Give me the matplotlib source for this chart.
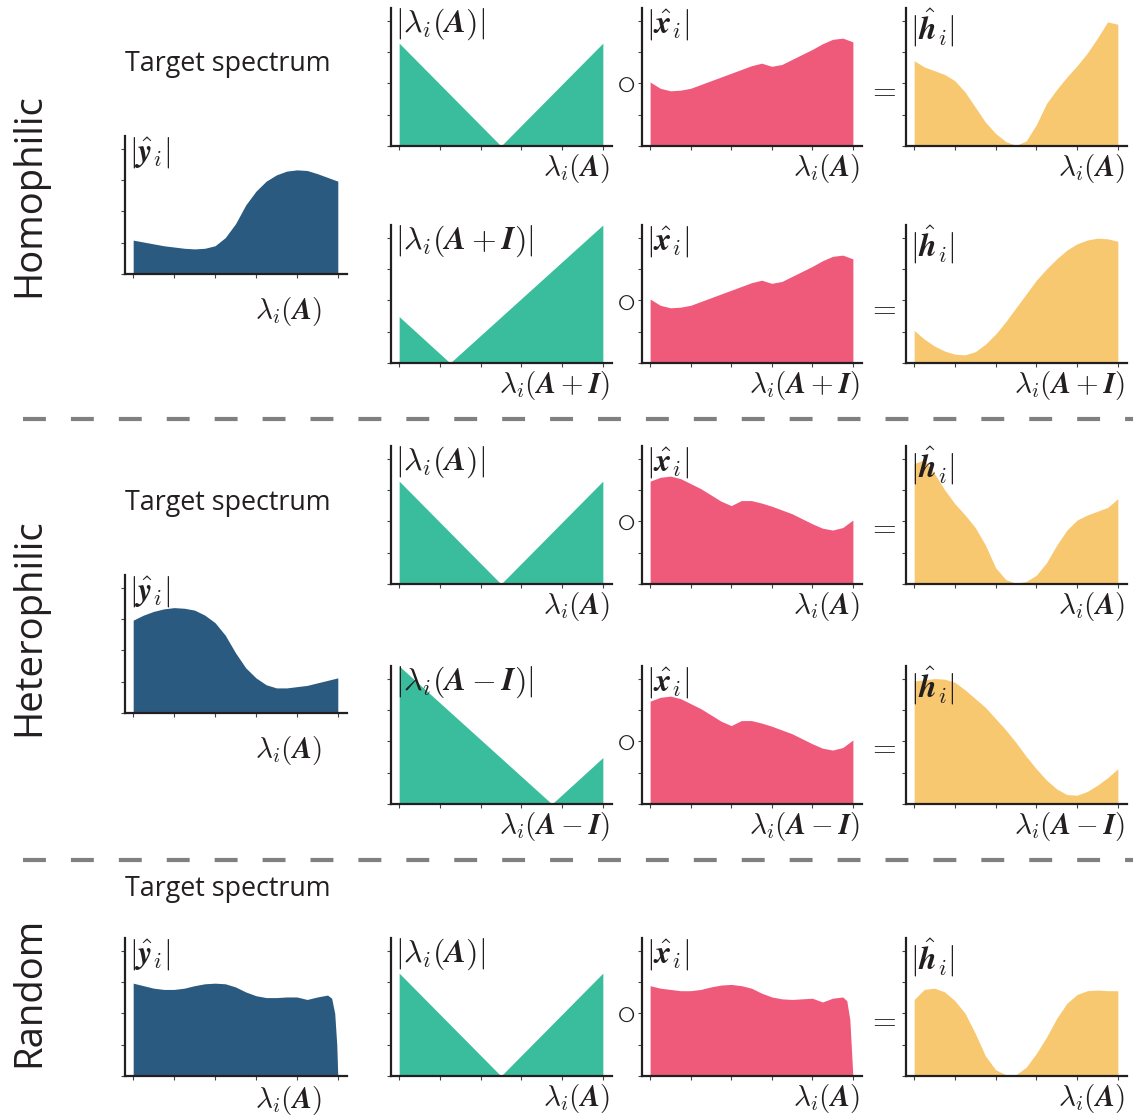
import matplotlib
matplotlib.use("Agg")
import matplotlib.pyplot as plt
from matplotlib.lines import Line2D

plt.rcParams['mathtext.fontset'] = 'cm'
plt.rcParams['font.family'] = ['Open Sans', 'DejaVu Sans']

W, H = 1133, 1116

BLUE = '#2b5a80'
GREEN = '#3abd9d'
PINK = '#ef5a7b'
YELLOW = '#f8c870'
INK = '#231f20'

# eigenvalue positions (normalised) at which the curves were read
lam = [0.0, 0.05, 0.10, 0.15, 0.20, 0.25, 0.30, 0.35, 0.40, 0.45, 0.50,
       0.55, 0.60, 0.65, 0.70, 0.75, 0.80, 0.85, 0.90, 0.95, 1.0]
lam_rand = [0.0, 0.05, 0.10, 0.15, 0.20, 0.25, 0.30, 0.35, 0.40, 0.45, 0.50,
            0.55, 0.60, 0.65, 0.70, 0.75, 0.80, 0.85, 0.90, 0.95, 0.97,
            0.985, 0.995, 1.0]

# |lambda_i| of the shifted adjacency
v_x = [0.0, 0.5, 1.0]
v_a = [0.82, 0.0, 0.82]
v_plus_x = [0.0, 0.25, 1.0]
v_plus = [0.37, 0.0, 1.1]
v_minus_x = [0.0, 0.75, 1.0]
v_minus = [1.1, 0.0, 0.37]

# homophilic
y_homo = [0.27, 0.255, 0.24, 0.225, 0.215, 0.205, 0.20, 0.205, 0.225, 0.29,
          0.40, 0.55, 0.66, 0.74, 0.79, 0.82, 0.83, 0.825, 0.80, 0.77, 0.74]
x_homo = [0.51, 0.46, 0.44, 0.445, 0.46, 0.49, 0.52, 0.55, 0.58, 0.61, 0.64,
          0.66, 0.635, 0.65, 0.69, 0.73, 0.77, 0.815, 0.85, 0.86, 0.83]
h_homo_a = [0.68, 0.63, 0.60, 0.57, 0.52, 0.43, 0.31, 0.19, 0.10, 0.035, 0.005,
            0.04, 0.17, 0.34, 0.45, 0.55, 0.64, 0.74, 0.86, 0.99, 0.97]
h_homo_plus = [0.26, 0.19, 0.135, 0.095, 0.07, 0.065, 0.09, 0.15, 0.23, 0.33,
               0.44, 0.55, 0.66, 0.75, 0.83, 0.90, 0.95, 0.98, 0.995, 0.99,
               0.97]

# heterophilic
y_het = [0.74, 0.78, 0.81, 0.83, 0.84, 0.835, 0.82, 0.78, 0.72, 0.62, 0.48,
         0.36, 0.28, 0.225, 0.20, 0.20, 0.21, 0.22, 0.24, 0.26, 0.28]
x_het = [0.82, 0.85, 0.86, 0.84, 0.80, 0.76, 0.71, 0.66, 0.625, 0.665, 0.665,
         0.645, 0.62, 0.59, 0.56, 0.52, 0.48, 0.445, 0.43, 0.45, 0.51]
h_het_a = [0.96, 0.99, 0.88, 0.75, 0.64, 0.55, 0.45, 0.31, 0.13, 0.035, 0.005,
           0.02, 0.07, 0.17, 0.31, 0.43, 0.51, 0.55, 0.58, 0.61, 0.68]
h_het_minus = [0.98, 0.99, 1.0, 0.995, 0.97, 0.91, 0.84, 0.77, 0.68, 0.59,
               0.49, 0.38, 0.28, 0.19, 0.12, 0.075, 0.07, 0.10, 0.15, 0.21,
               0.28]

# random
y_rand = [0.74, 0.72, 0.70, 0.69, 0.69, 0.70, 0.72, 0.735, 0.74, 0.735, 0.71,
          0.67, 0.64, 0.625, 0.625, 0.63, 0.63, 0.61, 0.63, 0.645, 0.62,
          0.50, 0.25, 0.0]
x_rand = [0.72, 0.70, 0.69, 0.68, 0.68, 0.69, 0.71, 0.725, 0.73, 0.72, 0.70,
          0.66, 0.63, 0.615, 0.61, 0.615, 0.62, 0.59, 0.62, 0.63, 0.60,
          0.45, 0.15, 0.0]
h_rand = [0.61, 0.69, 0.70, 0.67, 0.60, 0.50, 0.34, 0.16, 0.05, 0.01, 0.01,
          0.07, 0.18, 0.31, 0.46, 0.58, 0.65, 0.68, 0.685, 0.68, 0.68]

xticks = [0.0, 0.2, 0.4, 0.6, 0.8, 1.0]
yticks = [0.0, 0.25, 0.5, 0.75, 1.0]

lab_y = r'$|\hat{\boldsymbol{y}}_i|$'
lab_x = r'$|\hat{\boldsymbol{x}}_i|$'
lab_h = r'$|\hat{\boldsymbol{h}}_i|$'
lab_la = r'$|\lambda_i(\boldsymbol{A})|$'
lab_lp = r'$|\lambda_i(\boldsymbol{A}+\boldsymbol{I})|$'
lab_lm = r'$|\lambda_i(\boldsymbol{A}-\boldsymbol{I})|$'
ax_a = r'$\lambda_i(\boldsymbol{A})$'
ax_p = r'$\lambda_i(\boldsymbol{A}+\boldsymbol{I})$'
ax_m = r'$\lambda_i(\boldsymbol{A}-\boldsymbol{I})$'

fig = plt.figure(figsize=(W / 100, H / 100), dpi=100)


def panel(left, top, right, bottom, xs, ys, color, ylab, xlab,
          xlab_right=0.99, xlab_gap=6):
    ax = fig.add_axes([left / W, 1 - bottom / H, (right - left) / W,
                       (bottom - top) / H])
    ax.fill_between(xs, ys, color=color, lw=0)
    ax.set_xlim(-0.04, 1.045)
    ax.set_ylim(0, 1.1)
    ax.set_xticks(xticks)
    ax.set_yticks(yticks)
    ax.tick_params(length=3, width=0.8, color='#444444',
                   labelbottom=False, labelleft=False)
    ax.spines[['top', 'right']].set_visible(False)
    ax.spines[['left', 'bottom']].set_linewidth(1.6)
    ax.spines[['left', 'bottom']].set_color(INK)
    ax.text(0.02, 1.01, ylab, transform=ax.transAxes, ha='left', va='top',
            fontsize=23, color=INK)
    ax.text(xlab_right, -xlab_gap / (bottom - top), xlab,
            transform=ax.transAxes, ha='right', va='top', fontsize=21,
            color=INK)
    return ax


C0 = (125, 347)
C1 = (391, 612)
C2 = (642, 862)
C3 = (906, 1127)

# Homophilic
panel(C0[0], 136, C0[1], 274, lam, y_homo, BLUE, lab_y, ax_a,
      xlab_right=0.887, xlab_gap=21)
panel(C1[0], 8, C1[1], 146, v_x, v_a, GREEN, lab_la, ax_a)
panel(C2[0], 8, C2[1], 146, lam, x_homo, PINK, lab_x, ax_a)
panel(C3[0], 8, C3[1], 146, lam, h_homo_a, YELLOW, lab_h, ax_a)
panel(C1[0], 225, C1[1], 363, v_plus_x, v_plus, GREEN, lab_lp, ax_p)
panel(C2[0], 225, C2[1], 363, lam, x_homo, PINK, lab_x, ax_p)
panel(C3[0], 225, C3[1], 363, lam, h_homo_plus, YELLOW, lab_h, ax_p)

# Heterophilic
panel(C0[0], 575, C0[1], 713, lam, y_het, BLUE, lab_y, ax_a,
      xlab_right=0.887, xlab_gap=21)
panel(C1[0], 446, C1[1], 584, v_x, v_a, GREEN, lab_la, ax_a)
panel(C2[0], 446, C2[1], 584, lam, x_het, PINK, lab_x, ax_a)
panel(C3[0], 446, C3[1], 584, lam, h_het_a, YELLOW, lab_h, ax_a)
panel(C1[0], 666, C1[1], 804, v_minus_x, v_minus, GREEN, lab_lm, ax_m)
panel(C2[0], 666, C2[1], 804, lam, x_het, PINK, lab_x, ax_m)
panel(C3[0], 666, C3[1], 804, lam, h_het_minus, YELLOW, lab_h, ax_m)

# Random
panel(C0[0], 938, C0[1], 1076, lam_rand, y_rand, BLUE, lab_y, ax_a,
      xlab_right=0.887, xlab_gap=8)
panel(C1[0], 938, C1[1], 1076, v_x, v_a, GREEN, lab_la, ax_a)
panel(C2[0], 938, C2[1], 1076, lam_rand, x_rand, PINK, lab_x, ax_a)
panel(C3[0], 938, C3[1], 1076, lam, h_rand, YELLOW, lab_h, ax_a)

# operators between panels
for yc in [84, 302, 522, 742, 1014]:
    fig.text(626 / W, 1 - yc / H, r'$\circ$', ha='center', va='center',
             fontsize=28, color=INK)
for yc in [90, 308, 527, 747, 1020]:
    fig.text(882 / W, 1 - yc / H, r'$=$', ha='center', va='center',
             fontsize=22, color=INK)

# titles
for yc in [64, 503, 889]:
    fig.text(125 / W, 1 - yc / H, 'Target spectrum', ha='left', va='center',
             fontsize=19.4, color=INK)
for name, yc in [('Homophilic', 195), ('Heterophilic', 627), ('Random', 992)]:
    fig.text(29 / W, 1 - yc / H, name, rotation=90, ha='center', va='center',
             fontsize=27.5, color=INK)

# dashed separators
for yc in [419, 860]:
    sep = Line2D([23 / W, 1.0], [1 - yc / H, 1 - yc / H], color='#808080',
                 lw=3, dashes=(5.5, 6), transform=fig.transFigure)
    fig.add_artist(sep)

fig.savefig('out.png', dpi=100)
